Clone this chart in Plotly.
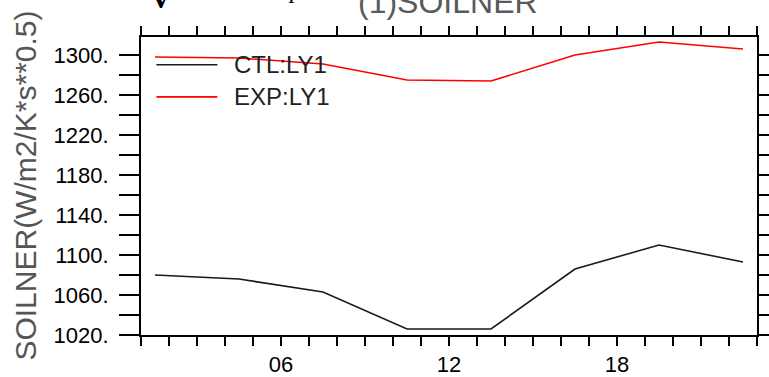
import plotly.graph_objects as go

# ---- data ----
hours = [1.5, 4.5, 7.5, 10.5, 13.5, 16.5, 19.5, 22.5]
ctl_ly1 = [1080, 1076, 1063, 1026, 1026, 1086, 1110, 1093]
exp_ly1 = [1298, 1297, 1291, 1275, 1274, 1300, 1313, 1306]
series_names = ["CTL:LY1", "EXP:LY1"]

x_tick_values = list(range(1, 24))
x_tick_labels = ["", "", "", "", "", "06", "", "", "", "", "", "12",
                 "", "", "", "", "", "18", "", "", "", "", ""]
y_tick_values = list(range(1020, 1320, 20))
y_tick_labels = ["1020.", "", "1060.", "", "1100.", "", "1140.", "",
                 "1180.", "", "1220.", "", "1260.", "", "1300."]

title_text = "(1)SOILNER"
y_title_text = "SOILNER(W/m2/K*s**0.5)"

# ---- figure ----
FONT = "Liberation Sans"
fig = go.Figure()
fig.add_trace(go.Scatter(x=hours, y=ctl_ly1, mode="lines", name=series_names[0],
                         line=dict(color="#1a1a1a", width=1.6), showlegend=False))
fig.add_trace(go.Scatter(x=hours, y=exp_ly1, mode="lines", name=series_names[1],
                         line=dict(color="#ff0000", width=1.6), showlegend=False))

axis_common = dict(showline=True, linecolor="black", linewidth=2, mirror="ticks",
                   ticks="outside", tickcolor="black", tickwidth=1.5,
                   showgrid=False, zeroline=False, automargin=False,
                   tickfont=dict(family=FONT, size=22, color="black"))

fig.update_xaxes(range=[1, 23], tickmode="array", tickvals=x_tick_values,
                 ticktext=x_tick_labels, ticklen=9, ticklabelstandoff=0, **axis_common)
fig.update_yaxes(range=[1020, 1318], tickmode="array", tickvals=y_tick_values,
                 ticktext=y_tick_labels, ticklen=20, ticklabelstandoff=6, **axis_common)

# manual legend (line samples + labels) in the upper-left of the plot
legend_colors = ["#1a1a1a", "#ff0000"]
legend_y = [0.907, 0.799]
for name, col, ly in zip(series_names, legend_colors, legend_y):
    fig.add_shape(type="line", xref="paper", yref="paper", x0=0.025, x1=0.124,
                  y0=ly, y1=ly, line=dict(color=col, width=1.6))
    fig.add_annotation(text=name, xref="paper", yref="paper", x=0.147, y=ly,
                       xanchor="left", yanchor="middle", showarrow=False,
                       font=dict(family=FONT, size=24, color="#222222"))

# title (partly cut off at the top) and stray fragments
fig.add_annotation(text=title_text, xref="paper", yref="paper", x=0.498, y=1.119,
                   xanchor="center", yanchor="middle", showarrow=False,
                   font=dict(family=FONT, size=32, color="#5a5a5a"))
fig.add_annotation(text="<b>V</b>", xref="paper", yref="paper", x=0.033, y=1.132,
                   xanchor="center", yanchor="middle", showarrow=False,
                   font=dict(family="Liberation Serif", size=30, color="black"))
fig.add_annotation(text="<i>p</i>", xref="paper", yref="paper", x=0.251, y=1.158,
                   xanchor="center", yanchor="middle", showarrow=False,
                   font=dict(family="Liberation Serif", size=26, color="black"))

# y-axis title
fig.add_annotation(text=y_title_text, xref="paper", yref="paper", x=-0.189, y=0.5,
                   xanchor="center", yanchor="middle", textangle=-90, showarrow=False,
                   font=dict(family=FONT, size=30, color="#555555"))

fig.update_layout(width=769, height=377,
                  margin=dict(l=141, r=12, t=37, b=42),
                  paper_bgcolor="white", plot_bgcolor="white")

fig.write_html("out.html", config={"displayModeBar": False},
               post_script="document.body.style.margin='0';document.body.style.overflow='hidden';")
